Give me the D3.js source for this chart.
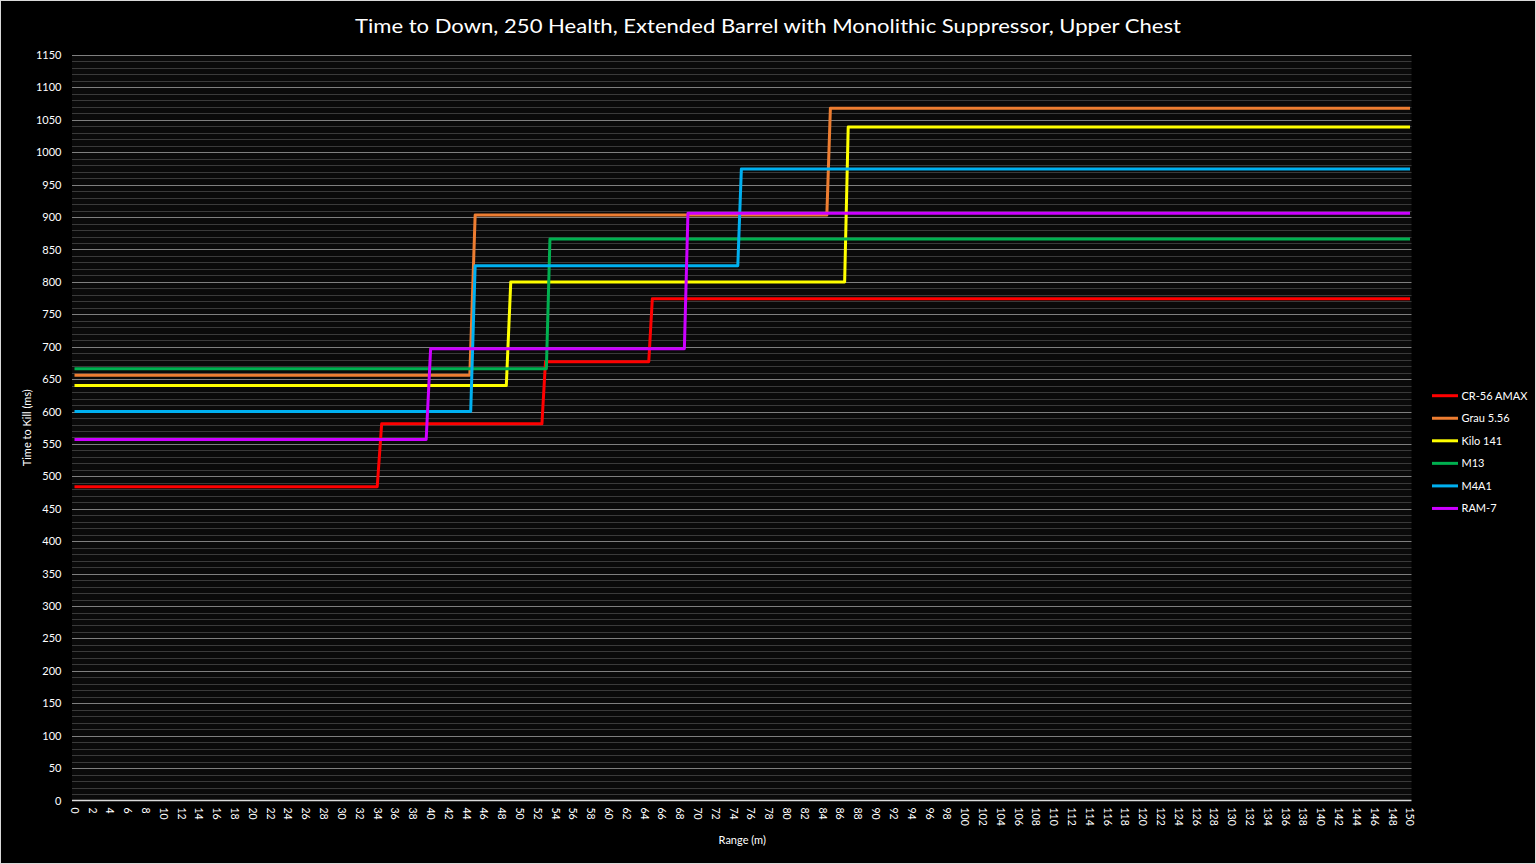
<!DOCTYPE html>
<html>
<head>
<meta charset="utf-8">
<script src="https://cdn.jsdelivr.net/npm/d3@7"></script>
<style>
  html, body { margin: 0; padding: 0; background: #000; }
  svg { display: block; font-family: Lato, "Open Sans", sans-serif; }
</style>
</head>
<body>
<svg id="chart" width="1536" height="864"></svg>
<script>
// [range in m, time to kill in ms] breakpoints
const cr56Amax = [[0, 484], [34, 484], [34.5, 581], [52.5, 581], [52.9, 677], [64.5, 677], [64.9, 774], [150, 774]];
const grau556 = [[0, 656], [44.4, 656], [45, 903], [84.5, 903], [84.9, 1068], [150, 1068]];
const kilo141 = [[0, 640], [48.5, 640], [49, 800], [86.5, 800], [86.9, 1039], [150, 1039]];
const m13 = [[0, 666], [53, 666], [53.4, 866], [150, 866]];
const m4a1 = [[0, 600], [44.5, 600], [45, 825], [74.5, 825], [74.9, 974], [150, 974]];
const ram7 = [[0, 557], [39.5, 557], [40, 697], [68.5, 697], [68.9, 906], [150, 906]];

const seriesNames = ["CR-56 AMAX", "Grau 5.56", "Kilo 141", "M13", "M4A1", "RAM-7"];
const seriesColors = ["#ff0000", "#ed7d31", "#ffff00", "#00b050", "#00b0f0", "#cc00ff"];
const seriesData = [cr56Amax, grau556, kilo141, m13, m4a1, ram7];

const xTicks = d3.range(0, 151, 2);
const yTicks = d3.range(0, 1151, 50);
const yMinorTicks = d3.range(0, 1151, 10);

const title = "Time to Down, 250 Health, Extended Barrel with Monolithic Suppressor, Upper Chest";

const svg = d3.select("#chart");
const margin = { top: 55, right: 126, bottom: 63.5, left: 74.5 };
const width = 1536;
const height = 864;

const x = d3.scaleLinear().domain([0, 150]).range([margin.left, width - margin.right]);
const y = d3.scaleLinear().domain([0, 1150]).range([height - margin.bottom, margin.top]);

svg.append("rect")
  .attr("x", 0.5).attr("y", 0.5)
  .attr("width", width - 1).attr("height", height - 1)
  .attr("fill", "#000").attr("stroke", "#d9d9d9");

svg.append("rect")
  .attr("x", x(0) - 2.5).attr("y", y(1150))
  .attr("width", x(150) - x(0) + 4).attr("height", y(0) - y(1150))
  .attr("fill", "#0a0a0a");

// gridlines
svg.append("g")
  .selectAll("line")
  .data(yMinorTicks.filter((v) => v > 0))
  .join("line")
  .attr("x1", x(0) - 2.5)
  .attr("x2", x(150) + 1.5)
  .attr("y1", (v) => Math.round(y(v)) + 0.5)
  .attr("y2", (v) => Math.round(y(v)) + 0.5)
  .attr("stroke", (v) => (v % 50 === 0 ? "#7f7f7f" : "#3a3a3a"))
  .attr("stroke-width", 1);

svg.append("line")
  .attr("x1", x(0) - 2.5)
  .attr("x2", x(150) + 1.5)
  .attr("y1", y(0))
  .attr("y2", y(0))
  .attr("stroke", "#d9d9d9")
  .attr("stroke-width", 1.5);

// y axis labels
svg.append("g")
  .attr("transform", `translate(${margin.left - 13},0)`)
  .call(d3.axisLeft(y).tickValues(yTicks).tickFormat(d3.format("d")).tickSize(0).tickPadding(0))
  .call((g) => g.select(".domain").remove())
  .call((g) => g.selectAll("text")
    .attr("fill", "#fff")
    .attr("font-size", "11px")
    .attr("font-family", "Lato, 'Open Sans', sans-serif"));

// x axis labels, rotated
svg.append("g")
  .selectAll("text")
  .data(xTicks)
  .join("text")
  .attr("transform", (v) => `translate(${x(v)},${y(0) + 7}) rotate(90)`)
  .attr("dy", "0.35em")
  .attr("fill", "#fff")
  .attr("font-size", "10.5px")
  .text((v) => v);

// axis titles
svg.append("text")
  .attr("x", (x(0) + x(150)) / 2)
  .attr("y", 844)
  .attr("text-anchor", "middle")
  .attr("fill", "#fff")
  .attr("font-size", "11px")
  .text("Range (m)");

svg.append("text")
  .attr("transform", `translate(31,${(y(0) + y(1150)) / 2}) rotate(-90)`)
  .attr("text-anchor", "middle")
  .attr("fill", "#fff")
  .attr("font-size", "11px")
  .text("Time to Kill (ms)");

// title
svg.append("text")
  .attr("x", 768)
  .attr("y", 33)
  .attr("text-anchor", "middle")
  .attr("fill", "#fff")
  .attr("font-size", "20px")
  .attr("textLength", 826)
  .attr("lengthAdjust", "spacingAndGlyphs")
  .text(title);

// series lines
const line = d3.line()
  .x((d) => x(d[0]))
  .y((d) => y(d[1]));

svg.append("g")
  .selectAll("path")
  .data(seriesData)
  .join("path")
  .attr("d", line)
  .attr("fill", "none")
  .attr("stroke", (d, i) => seriesColors[i])
  .attr("stroke-width", 3)
  .attr("stroke-linejoin", "round");

// legend
const legend = svg.append("g")
  .selectAll("g")
  .data(seriesNames)
  .join("g")
  .attr("transform", (d, i) => `translate(1432,${395.7 + i * 22.55})`);

legend.append("line")
  .attr("x1", 0).attr("x2", 26)
  .attr("stroke", (d, i) => seriesColors[i])
  .attr("stroke-width", 3);

legend.append("text")
  .attr("x", 29.5)
  .attr("dy", "0.35em")
  .attr("fill", "#fff")
  .attr("font-size", "11px")
  .text((d) => d);
</script>
</body>
</html>
